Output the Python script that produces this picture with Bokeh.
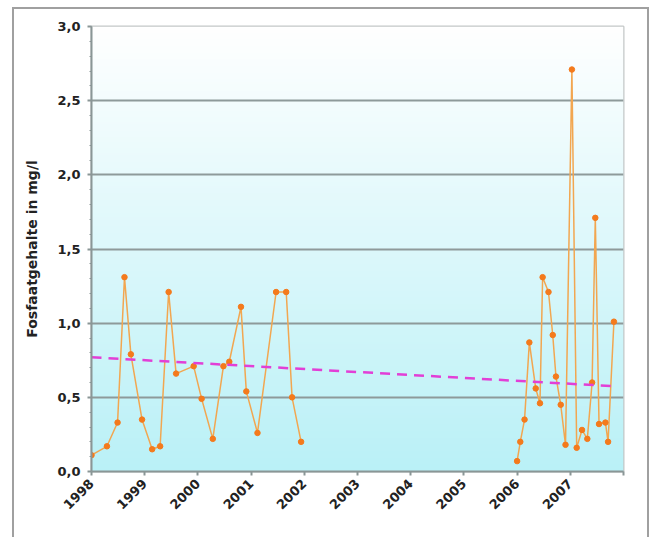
import numpy as np
from bokeh.plotting import figure
from bokeh.models import Range1d, FixedTicker, CustomJSTickFormatter
from bokeh.embed import file_html
from bokeh.resources import INLINE

# ---- data (decimal year, mg/l) ----
# measurement period 1998-2001
early_x = [1998.00, 1998.29, 1998.49, 1998.62, 1998.74, 1998.95, 1999.14, 1999.29,
           1999.45, 1999.59, 1999.92, 2000.07, 2000.28, 2000.48, 2000.59, 2000.81,
           2000.91, 2001.12, 2001.47, 2001.66, 2001.77, 2001.94]
early_y = [0.11, 0.17, 0.33, 1.31, 0.79, 0.35, 0.15, 0.17,
           1.21, 0.66, 0.71, 0.49, 0.22, 0.71, 0.74, 1.11,
           0.54, 0.26, 1.21, 1.21, 0.50, 0.20]
# measurement period 2006-2007
late_x = [2006.00, 2006.06, 2006.14, 2006.23, 2006.35, 2006.43, 2006.48, 2006.59,
          2006.67, 2006.73, 2006.82, 2006.91, 2007.03, 2007.12, 2007.22, 2007.32,
          2007.41, 2007.47, 2007.54, 2007.66, 2007.71, 2007.82]
late_y = [0.07, 0.20, 0.35, 0.87, 0.56, 0.46, 1.31, 1.21,
          0.92, 0.64, 0.45, 0.18, 2.71, 0.16, 0.28, 0.22,
          0.60, 1.71, 0.32, 0.33, 0.20, 1.01]
trend_x = [1998.00, 2007.82]
trend_y = [0.77, 0.575]

year_ticks = [1998, 1999, 2000, 2001, 2002, 2003, 2004, 2005, 2006, 2007, 2008]
year_labels = ["1998", "1999", "2000", "2001", "2002", "2003", "2004", "2005", "2006", "2007", ""]
y_ticks = [0.0, 0.5, 1.0, 1.5, 2.0, 2.5, 3.0]
y_title = "Fosfaatgehalte in mg/l"

x0, x1 = year_ticks[0], year_ticks[-1]
y0, y1 = y_ticks[0], y_ticks[-1]

p = figure(width=637, height=530, output_backend="svg", toolbar_location=None,
           x_range=Range1d(x0, x1), y_range=Range1d(y0, y1),
           min_border_left=77, min_border_right=28, min_border_top=17, min_border_bottom=68)
p.margin = (7, 0, 0, 12)
p.styles = {"border-left": "2px solid #a0a0a0", "border-top": "2px solid #a0a0a0",
            "border-right": "2px solid #a0a0a0"}

p.background_fill_color = "white"
p.border_fill_color = "white"
p.outline_line_color = "#c4c8c8"
p.outline_line_width = 2

# vertical gradient background (white top -> light cyan bottom)
n = 200
top = np.array([255, 255, 255], dtype=float)
bot = np.array([186, 241, 247], dtype=float)
t = np.linspace(0, 1, n)[:, None]  # row 0 = bottom
cols = bot * (1 - t) + top * t
img = np.zeros((n, 1), dtype=np.uint32)
view = img.view(dtype=np.uint8).reshape((n, 1, 4))
view[:, 0, 0] = cols[:, 0]
view[:, 0, 1] = cols[:, 1]
view[:, 0, 2] = cols[:, 2]
view[:, 0, 3] = 255
p.image_rgba(image=[img], x=x0, y=y0, dw=x1 - x0, dh=y1 - y0, level="image")

# grid
p.xgrid.grid_line_color = None
p.ygrid.grid_line_color = "#8e9a9a"
p.ygrid.grid_line_width = 2
p.ygrid.level = "underlay"

# data lines + markers (two separate measurement periods)
for xs, ys in ((early_x, early_y), (late_x, late_y)):
    p.line(xs, ys, line_color="#f2a650", line_width=1.5)
    p.scatter(xs, ys, size=5.5, fill_color="#f47a1c", line_color="#f47a1c")

# trend line
p.line(trend_x, trend_y, line_color="#e23fd6", line_width=2.5, line_dash="10 7")

# axes
xa = p.xaxis[0]
xa.ticker = FixedTicker(ticks=year_ticks, minor_ticks=[])
xa.major_label_overrides = {yr: lab for yr, lab in zip(year_ticks, year_labels)}
xa.major_label_orientation = np.pi / 4
xa.axis_line_color = "#8a9696"
xa.axis_line_width = 2
xa.major_tick_line_color = "#8a9696"
xa.major_tick_line_width = 2
xa.major_tick_out = 4
xa.major_tick_in = 0
xa.major_label_text_font = "DejaVu Sans"
xa.major_label_text_font_style = "bold"
xa.major_label_text_font_size = "13px"
xa.major_label_text_color = "#222222"
xa.major_label_standoff = 6

ya = p.yaxis[0]
ya.ticker = FixedTicker(ticks=y_ticks, minor_ticks=[i / 10 for i in range(31)])
ya.formatter = CustomJSTickFormatter(code="return tick.toFixed(1).replace('.', ',');")
ya.axis_line_color = "#8a9696"
ya.axis_line_width = 2
ya.major_tick_line_color = "#8a9696"
ya.major_tick_line_width = 2
ya.major_tick_out = 4
ya.major_tick_in = 0
ya.minor_tick_line_color = "#8a9696"
ya.minor_tick_out = 2
ya.minor_tick_in = 0
ya.major_label_text_font = "DejaVu Sans"
ya.major_label_text_font_style = "bold"
ya.major_label_text_font_size = "13px"
ya.major_label_text_color = "#222222"
ya.major_label_standoff = 7
ya.axis_label = y_title
ya.axis_label_text_font = "DejaVu Sans"
ya.axis_label_text_font_style = "bold"
ya.axis_label_text_font_size = "14px"
ya.axis_label_text_color = "#222222"
ya.axis_label_standoff = 14

open("out.html", "w").write(file_html(p, INLINE))
